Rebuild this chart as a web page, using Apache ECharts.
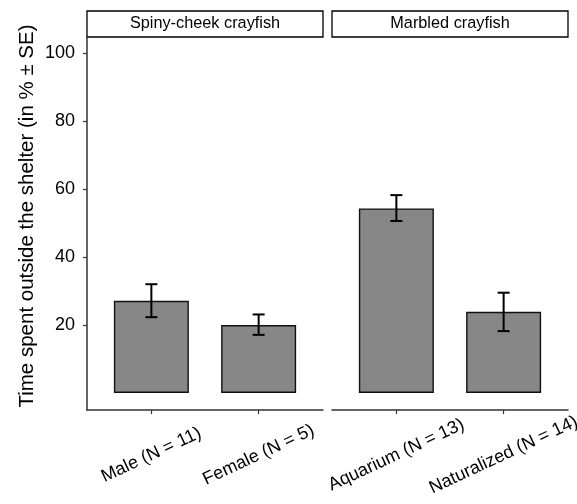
<!DOCTYPE html>
<html>
<head>
<meta charset="utf-8">
<script src="https://cdn.jsdelivr.net/npm/echarts@6/dist/echarts.min.js"></script>
<style>
  html, body { margin: 0; padding: 0; background: #fff; }
</style>
</head>
<body>
<div id="main" style="width: 577px;height:504px;"></div>
<script>
// panel titles
var panelTitles = ['Spiny-cheek crayfish', 'Marbled crayfish'];

// spiny-cheek panel
var spinyCategories = ['Male (N = 11)', 'Female (N = 5)'];
var spinyMeans = [27.1, 20.0];
var spinyLower = [22.3, 17.1];
var spinyUpper = [32.0, 23.1];

// marbled panel
var marbledCategories = ['Aquarium (N = 13)', 'Naturalized (N = 14)'];
var marbledMeans = [54.3, 23.9];
var marbledLower = [50.6, 18.2];
var marbledUpper = [58.2, 29.5];

var yTicks = [20, 40, 60, 80, 100];
var yTitle = 'Time spent outside the shelter (in % \u00b1 SE)';

var FONT = "'Liberation Sans', Arial, sans-serif";
var AXIS_COLOR = '#333';

function xAxisFor(idx, cats) {
  return {
    gridIndex: idx,
    type: 'value',
    min: 0.4,
    max: 2.6,
    splitLine: { show: false },
    axisLine: { show: true, onZero: false, lineStyle: { color: AXIS_COLOR, width: 1.5 } },
    axisTick: { show: true, length: 4, customValues: [1, 2], lineStyle: { color: AXIS_COLOR, width: 1.2 } },
    axisLabel: {
      customValues: [1, 2],
      formatter: function (v) { return cats[Math.round(v) - 1]; },
      rotate: 25,
      align: 'center',
      verticalAlign: 'middle',
      margin: 45,
      fontSize: 18,
      fontFamily: FONT,
      color: '#000'
    }
  };
}

function yAxisFor(idx, visible) {
  return {
    gridIndex: idx,
    type: 'value',
    min: -5,
    max: 105,
    splitLine: { show: false },
    axisLine: { show: visible, lineStyle: { color: AXIS_COLOR, width: 1.5 } },
    axisTick: { show: visible, length: 4, customValues: yTicks, lineStyle: { color: AXIS_COLOR, width: 1.2 } },
    axisLabel: {
      show: visible,
      customValues: yTicks,
      margin: 12,
      fontSize: 18,
      fontFamily: FONT,
      color: '#000'
    }
  };
}

function toPairs(vals) {
  return vals.map(function (v, i) { return [i + 1, v]; });
}

function errPairs(lo, hi) {
  return lo.map(function (v, i) { return [i + 1, v, hi[i]]; });
}

function errorSeries(idx, lo, hi) {
  return {
    type: 'custom',
    xAxisIndex: idx,
    yAxisIndex: idx,
    data: errPairs(lo, hi),
    z: 5,
    renderItem: function (params, api) {
      var x = api.value(0);
      var top = api.coord([x, api.value(2)]);
      var bot = api.coord([x, api.value(1)]);
      var w = 6;
      var style = { stroke: '#000', lineWidth: 2 };
      return {
        type: 'group',
        children: [
          { type: 'line', shape: { x1: top[0], y1: top[1], x2: bot[0], y2: bot[1] }, style: style },
          { type: 'line', shape: { x1: top[0] - w, y1: top[1], x2: top[0] + w, y2: top[1] }, style: style },
          { type: 'line', shape: { x1: bot[0] - w, y1: bot[1], x2: bot[0] + w, y2: bot[1] }, style: style }
        ]
      };
    }
  };
}

function barSeries(idx, means) {
  return {
    type: 'bar',
    xAxisIndex: idx,
    yAxisIndex: idx,
    data: toPairs(means),
    barWidth: 75,
    itemStyle: { color: '#878787', borderColor: '#111', borderWidth: 1.4 }
  };
}

function strip(x, w, text) {
  return {
    type: 'group',
    children: [
      { type: 'rect', shape: { x: x, y: 11, width: w, height: 26 },
        style: { fill: '#fff', stroke: '#000', lineWidth: 1.3 } },
      { type: 'text', x: x + w / 2, y: 24,
        style: { text: text, fill: '#000', font: '16.3px ' + FONT, align: 'center', verticalAlign: 'middle' } }
    ]
  };
}

var myChart = echarts.init(document.getElementById('main'));

var option = {
  animation: false,
  backgroundColor: '#fff',
  grid: [
    { left: 87, top: 36, width: 236, height: 374, containLabel: false, outerBoundsMode: 'none' },
    { left: 332, top: 36, width: 236, height: 374, containLabel: false, outerBoundsMode: 'none' }
  ],
  xAxis: [xAxisFor(0, spinyCategories), xAxisFor(1, marbledCategories)],
  yAxis: [yAxisFor(0, true), yAxisFor(1, false)],
  series: [
    barSeries(0, spinyMeans),
    errorSeries(0, spinyLower, spinyUpper),
    barSeries(1, marbledMeans),
    errorSeries(1, marbledLower, marbledUpper)
  ],
  graphic: [
    strip(87, 236, panelTitles[0]),
    strip(332, 236, panelTitles[1]),
    { type: 'text', x: 27, y: 216, rotation: Math.PI / 2,
      style: { text: yTitle, fill: '#000', font: '20.5px ' + FONT, align: 'center', verticalAlign: 'middle' } }
  ]
};

myChart.setOption(option);
</script>
</body>
</html>
